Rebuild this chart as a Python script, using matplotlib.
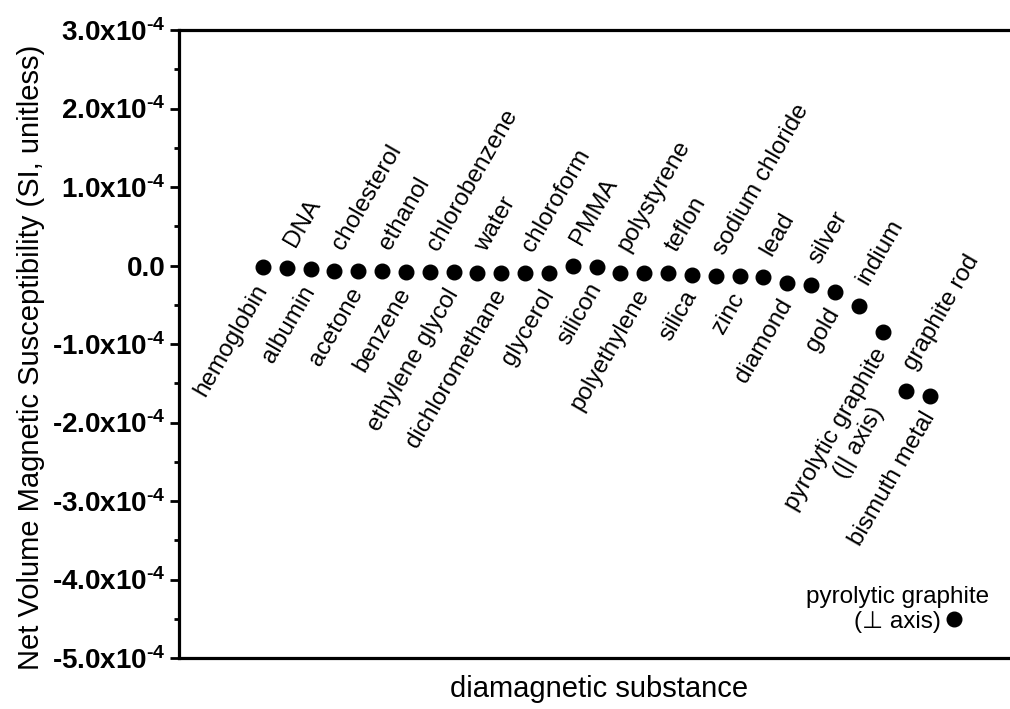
import matplotlib
matplotlib.use('Agg')
import matplotlib.pyplot as plt
from matplotlib.ticker import FixedLocator, FixedFormatter, MultipleLocator

plt.rcParams['font.family'] = ['Liberation Sans', 'DejaVu Sans']
plt.rcParams['mathtext.fontset'] = 'custom'
plt.rcParams['mathtext.rm'] = 'Liberation Sans'
plt.rcParams['mathtext.bf'] = 'Liberation Sans:bold'
plt.rcParams['mathtext.it'] = 'Liberation Sans:italic'

# ---- data ----
substances = ['hemoglobin', 'DNA', 'albumin', 'cholesterol', 'acetone', 'ethanol',
              'benzene', 'chlorobenzene', 'ethylene glycol', 'water', 'dichloromethane',
              'chloroform', 'glycerol', 'PMMA', 'silicon', 'polystyrene', 'polyethylene',
              'teflon', 'silica', 'sodium chloride', 'zinc', 'lead', 'diamond', 'silver',
              'gold', 'indium', 'pyrolytic graphite\n(|| axis)', 'graphite rod',
              'bismuth metal', 'pyrolytic graphite\n(\u22A5 axis)']
susceptibility = [-2.5e-6, -3.5e-6, -5.0e-6, -7.0e-6, -7.2e-6, -7.3e-6,
                  -7.8e-6, -8.5e-6, -8.8e-6, -9.05e-6, -9.2e-6,
                  -9.4e-6, -9.8e-6, -1.0e-6, -2.0e-6, -9.3e-6, -9.5e-6,
                  -1.0e-5, -1.15e-5, -1.3e-5, -1.4e-5, -1.5e-5, -2.2e-5, -2.5e-5,
                  -3.4e-5, -5.1e-5, -8.5e-5, -1.6e-4,
                  -1.66e-4, -4.5e-4]
ytick_values = [3e-4, 2e-4, 1e-4, 0.0, -1e-4, -2e-4, -3e-4, -4e-4, -5e-4]
ytick_mantissas = ['3.0', '2.0', '1.0', '0.0', '-1.0', '-2.0', '-3.0', '-4.0', '-5.0']
ytick_exponent = '\u20104'
xlabel = 'diamagnetic substance'
ylabel = 'Net Volume Magnetic Susceptibility (SI, unitless)'

# ---- figure ----
W, H = 1010, 709
fig = plt.figure(figsize=(W / 100, H / 100), dpi=100)
left_px, right_px, top_px, bottom_px = 179, 1020, 30, 658
ax = fig.add_axes([left_px / W, 1 - bottom_px / H, (right_px - left_px) / W,
                   (bottom_px - top_px) / H])

positions = list(range(1, len(substances) + 1))
ax.plot(positions, susceptibility, 'o', color='black', ms=10.5, clip_on=False, zorder=3)

spacing_px = 23.83
xl = 1 - (263 - left_px) / spacing_px
ax.set_xlim(xl, xl + (right_px - left_px) / spacing_px)
ax.set_ylim(-5e-4, 3e-4)

for sp in ['left', 'top', 'bottom']:
    ax.spines[sp].set_linewidth(2.3)
ax.spines['right'].set_visible(False)

labels = [m if m == '0.0' else m + 'x10$^{\\mathbf{' + ytick_exponent + '}}$'
          for m in ytick_mantissas]
ax.set_xticks([])
ax.yaxis.set_major_locator(FixedLocator(ytick_values))
ax.yaxis.set_major_formatter(FixedFormatter(labels))
ax.yaxis.set_minor_locator(MultipleLocator(0.5e-4))
ax.tick_params(axis='y', which='major', direction='out', length=6.5, width=2.0,
               labelsize=20, pad=3)
ax.tick_params(axis='y', which='minor', direction='out', length=3.5, width=2.0)
for t in ax.get_yticklabels():
    t.set_fontweight('bold')

ax.set_xlabel(xlabel, fontsize=21, labelpad=12)
ax.set_ylabel(ylabel, fontsize=21)
ax.yaxis.set_label_coords((45 - left_px) / (right_px - left_px),
                          1 - (357 - top_px) / (bottom_px - top_px))

lab_fs = 17.5
n = len(substances)
for i, (name, val) in enumerate(zip(substances, susceptibility)):
    x = positions[i]
    if i == n - 1:
        ax.annotate(name, (x, val), xytext=(-41, 6.5), textcoords='offset points',
                    ha='center', va='center', multialignment='center', fontsize=lab_fs)
    elif i % 2 == 1:
        ax.annotate(name, (x, val), xytext=(9.0, 12.5), textcoords='offset points',
                    ha='left', va='bottom', rotation=60, rotation_mode='anchor',
                    fontsize=lab_fs)
    else:
        ax.annotate(name, (x, val), xytext=(-7.0, -9.0), textcoords='offset points',
                    ha='right', va='top', rotation=60, rotation_mode='anchor',
                    multialignment='center', fontsize=lab_fs)

fig.savefig('out.png', dpi=100)
